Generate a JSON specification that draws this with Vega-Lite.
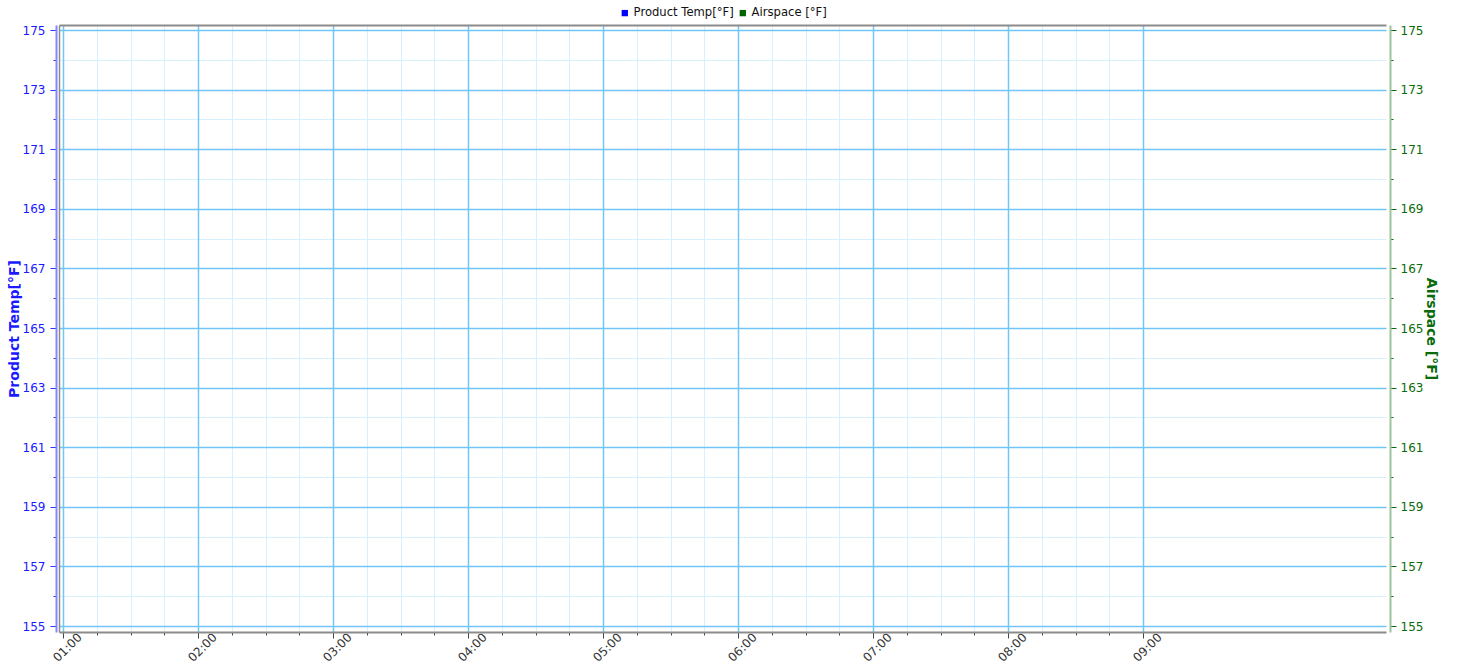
{
  "$schema": "https://vega.github.io/schema/vega-lite/v6.json",
  "width": 1327,
  "height": 607,
  "autosize": {"type": "none"},
  "padding": {"left": 59, "top": 25, "right": 72, "bottom": 35},
  "background": "white",
  "config": {
    "font": "DejaVu Sans",
    "view": {"stroke": null},
    "axis": {"gridWidth": 1}
  },
  "data": {
    "values": [
      {"time": "2024-01-01T01:00:00", "product": null, "airspace": null},
      {"time": "2024-01-01T09:00:00", "product": null, "airspace": null}
    ]
  },
  "resolve": {"scale": {"x": "independent", "y": "independent", "color": "independent"}},
  "layer": [
    {
      "mark": {"type": "line"},
      "encoding": {
        "x": {
          "field": "time", "type": "temporal",
          "scale": {"domain": [{"year": 2024, "month": 1, "date": 1, "hours": 0, "minutes": 58, "seconds": 13}, {"year": 2024, "month": 1, "date": 1, "hours": 10, "minutes": 48}]},
          "axis": {
            "orient": "bottom", "title": null, "labels": false, "domain": false,
            "ticks": true, "tickSize": 3, "tickColor": "#444", "tickWidth": 1,
            "grid": true, "gridColor": "#d7f0fd", "gridWidth": 1, "zindex": 0,
            "values": [
              {"year": 2024, "month": 1, "date": 1, "hours": 1, "minutes": 15},
              {"year": 2024, "month": 1, "date": 1, "hours": 1, "minutes": 30},
              {"year": 2024, "month": 1, "date": 1, "hours": 1, "minutes": 45},
              {"year": 2024, "month": 1, "date": 1, "hours": 2, "minutes": 15},
              {"year": 2024, "month": 1, "date": 1, "hours": 2, "minutes": 30},
              {"year": 2024, "month": 1, "date": 1, "hours": 2, "minutes": 45},
              {"year": 2024, "month": 1, "date": 1, "hours": 3, "minutes": 15},
              {"year": 2024, "month": 1, "date": 1, "hours": 3, "minutes": 30},
              {"year": 2024, "month": 1, "date": 1, "hours": 3, "minutes": 45},
              {"year": 2024, "month": 1, "date": 1, "hours": 4, "minutes": 15},
              {"year": 2024, "month": 1, "date": 1, "hours": 4, "minutes": 30},
              {"year": 2024, "month": 1, "date": 1, "hours": 4, "minutes": 45},
              {"year": 2024, "month": 1, "date": 1, "hours": 5, "minutes": 15},
              {"year": 2024, "month": 1, "date": 1, "hours": 5, "minutes": 30},
              {"year": 2024, "month": 1, "date": 1, "hours": 5, "minutes": 45},
              {"year": 2024, "month": 1, "date": 1, "hours": 6, "minutes": 15},
              {"year": 2024, "month": 1, "date": 1, "hours": 6, "minutes": 30},
              {"year": 2024, "month": 1, "date": 1, "hours": 6, "minutes": 45},
              {"year": 2024, "month": 1, "date": 1, "hours": 7, "minutes": 15},
              {"year": 2024, "month": 1, "date": 1, "hours": 7, "minutes": 30},
              {"year": 2024, "month": 1, "date": 1, "hours": 7, "minutes": 45},
              {"year": 2024, "month": 1, "date": 1, "hours": 8, "minutes": 15},
              {"year": 2024, "month": 1, "date": 1, "hours": 8, "minutes": 30},
              {"year": 2024, "month": 1, "date": 1, "hours": 8, "minutes": 45}
            ]
          }
        },
        "y": {
          "field": "product", "type": "quantitative",
          "scale": {"domain": [154.8, 175.17], "nice": false, "zero": false},
          "axis": {
            "orient": "left", "offset": 3, "title": null, "labels": false, "domain": false,
            "ticks": true, "tickSize": 3, "tickColor": "#3333ff", "tickWidth": 1,
            "grid": true, "gridColor": "#d7f0fd", "gridWidth": 1, "zindex": 0,
            "values": [156, 158, 160, 162, 164, 166, 168, 170, 172, 174]
          }
        }
      }
    },
    {
      "mark": {"type": "line"},
      "encoding": {
        "x": {
          "field": "time", "type": "temporal",
          "scale": {"domain": [{"year": 2024, "month": 1, "date": 1, "hours": 0, "minutes": 58, "seconds": 13}, {"year": 2024, "month": 1, "date": 1, "hours": 10, "minutes": 48}]},
          "axis": {"orient": "top", "title": null, "labels": false, "ticks": false, "grid": false, "values": [], "domain": true, "domainColor": "#8c8c8c", "domainWidth": 2, "zindex": 2}
        },
        "y": {
          "field": "airspace", "type": "quantitative",
          "scale": {"domain": [154.8, 175.17], "nice": false, "zero": false},
          "axis": {
            "orient": "right", "offset": 4, "title": null, "labels": false, "domain": false,
            "ticks": true, "tickSize": 3, "tickColor": "#0b6b0b", "tickWidth": 1, "grid": false,
            "values": [156, 158, 160, 162, 164, 166, 168, 170, 172, 174]
          }
        }
      }
    },
    {
      "mark": {"type": "line"},
      "encoding": {
        "x": {
          "field": "time", "type": "temporal",
          "scale": {"domain": [{"year": 2024, "month": 1, "date": 1, "hours": 0, "minutes": 58, "seconds": 13}, {"year": 2024, "month": 1, "date": 1, "hours": 10, "minutes": 48}]},
          "axis": null
        },
        "y": {
          "field": "product", "type": "quantitative",
          "scale": {"domain": [154.8, 175.17], "nice": false, "zero": false},
          "axis": {"orient": "left", "offset": 0, "title": null, "labels": false, "ticks": false, "grid": false, "values": [], "domain": true, "domainColor": "#8c8c8c", "domainWidth": 1.5, "zindex": 2}
        }
      }
    },
    {
      "mark": {"type": "line"},
      "encoding": {
        "x": {
          "field": "time", "type": "temporal",
          "scale": {"domain": [{"year": 2024, "month": 1, "date": 1, "hours": 0, "minutes": 58, "seconds": 13}, {"year": 2024, "month": 1, "date": 1, "hours": 10, "minutes": 48}]},
          "axis": null
        },
        "y": {
          "field": "airspace", "type": "quantitative",
          "scale": {"domain": [154.8, 175.17], "nice": false, "zero": false},
          "axis": {
            "orient": "right", "offset": 4, "title": "Airspace [°F]",
            "titleColor": "#0b6b0b", "titleFontSize": 14, "titleFontWeight": "bold", "titlePadding": 1,
            "labelColor": "#0b6b0b", "labelFontSize": 12, "labelPadding": 4,
            "domain": true, "domainColor": "#9dc39d", "domainWidth": 2,
            "ticks": true, "tickSize": 6, "tickColor": "#0b6b0b", "tickWidth": 1, "grid": false,
            "values": [155, 157, 159, 161, 163, 165, 167, 169, 171, 173, 175], "zindex": 2
          }
        }
      }
    },
    {
      "transform": [{"fold": ["product", "airspace"], "as": ["series", "value"]}],
      "mark": {"type": "point", "filled": true, "shape": "square", "opacity": 1},
      "encoding": {
        "x": {
          "field": "time", "type": "temporal",
          "scale": {"domain": [{"year": 2024, "month": 1, "date": 1, "hours": 0, "minutes": 58, "seconds": 13}, {"year": 2024, "month": 1, "date": 1, "hours": 10, "minutes": 48}]},
          "axis": {
            "orient": "bottom", "title": null, "format": "%H:%M",
            "labelAngle": -45, "labelAlign": "center", "labelBaseline": "middle", "labelPadding": 9,
            "labelColor": "#333333", "labelFontSize": 12, "labelOffset": 4,
            "domain": true, "domainColor": "#8c8c8c", "domainWidth": 2,
            "ticks": true, "tickSize": 6, "tickColor": "#444", "tickWidth": 1,
            "grid": true, "gridColor": "#72c6f5", "gridWidth": 1.5, "zindex": 1,
            "values": [
              {"year": 2024, "month": 1, "date": 1, "hours": 1},
              {"year": 2024, "month": 1, "date": 1, "hours": 2},
              {"year": 2024, "month": 1, "date": 1, "hours": 3},
              {"year": 2024, "month": 1, "date": 1, "hours": 4},
              {"year": 2024, "month": 1, "date": 1, "hours": 5},
              {"year": 2024, "month": 1, "date": 1, "hours": 6},
              {"year": 2024, "month": 1, "date": 1, "hours": 7},
              {"year": 2024, "month": 1, "date": 1, "hours": 8},
              {"year": 2024, "month": 1, "date": 1, "hours": 9}
            ]
          }
        },
        "y": {
          "field": "value", "type": "quantitative",
          "scale": {"domain": [154.8, 175.17], "nice": false, "zero": false},
          "axis": {
            "orient": "left", "offset": 3, "title": "Product Temp[°F]",
            "titleColor": "#1a1aff", "titleFontSize": 14, "titleFontWeight": "bold", "titlePadding": 1,
            "labelColor": "#1a1aff", "labelFontSize": 12, "labelPadding": 5,
            "domain": true, "domainColor": "#8585ff", "domainWidth": 2,
            "ticks": true, "tickSize": 6, "tickColor": "#3333ff", "tickWidth": 1,
            "grid": true, "gridColor": "#72c6f5", "gridWidth": 1.5, "zindex": 1,
            "values": [155, 157, 159, 161, 163, 165, 167, 169, 171, 173, 175]
          }
        },
        "color": {
          "field": "series", "type": "nominal",
          "scale": {"domain": ["Product Temp[°F]", "Airspace [°F]"], "range": ["#0000ff", "#006400"]},
          "legend": {
            "orient": "none", "legendX": 560, "legendY": -18, "direction": "horizontal",
            "title": null, "symbolType": "square", "symbolSize": 40, "symbolStrokeWidth": 0, "symbolOpacity": 1,
            "labelFontSize": 11.6, "labelColor": "#111111", "columnPadding": 3, "labelOffset": 3, "padding": 0
          }
        }
      }
    }
  ]
}
